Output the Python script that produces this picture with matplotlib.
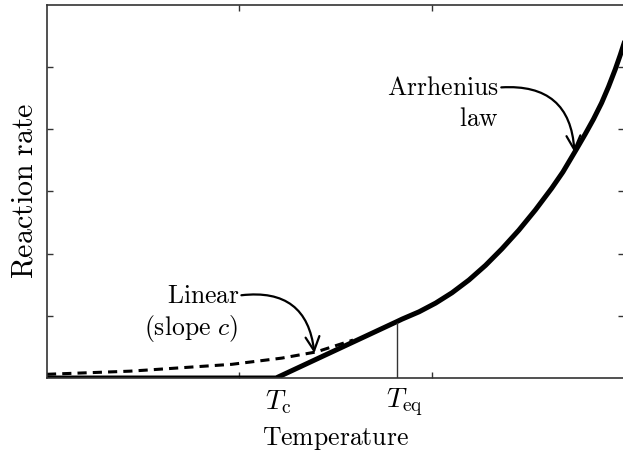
import matplotlib
matplotlib.use("Agg")
from matplotlib import pyplot as plt
from matplotlib.transforms import blended_transform_factory

plt.rcParams['mathtext.fontset'] = 'cm'
plt.rcParams['font.family'] = 'serif'

# curva solida: cero hasta Tc, lineal hasta Teq, luego Arrhenius
T_solid = [0.0, 1.19, 1.82, 1.845, 1.933, 2.019, 2.104, 2.192, 2.278, 2.363, 2.451,
           2.537, 2.622, 2.68, 2.751, 2.796, 2.839, 2.881, 2.917, 2.952, 2.978, 3.0]
rate_solid = [0.0, 0.0, 0.91, 0.947, 1.064, 1.204, 1.37, 1.575, 1.81, 2.075, 2.375,
              2.70, 3.05, 3.31, 3.68, 3.92, 4.16, 4.42, 4.68, 4.96, 5.19, 5.40]

# curva punteada (extension de Arrhenius a baja temperatura)
T_dash = [0.0, 0.43, 0.53, 0.96, 1.22, 1.40, 1.59]
rate_dash = [0.06, 0.11, 0.13, 0.22, 0.32, 0.42, 0.61]

Tc = 1.19
Teq = 1.82
rate_eq = 0.88

x_ticks = [1, 2]
y_ticks = [1, 2, 3, 4, 5]

fig = plt.figure(figsize=(6.23, 4.61), dpi=100)
ax = fig.add_axes([0.0754, 0.180, 0.927, 0.810])

ax.plot(T_dash, rate_dash, color='black', lw=2.2, dashes=(3, 2), solid_capstyle='butt')
ax.plot(T_solid, rate_solid, color='black', lw=3.6, solid_joinstyle='round')
ax.plot([Teq, Teq], [0, rate_eq], color='#333333', lw=1)

ax.set_xlim(0, 3)
ax.set_ylim(0, 6)
ax.set_xticks(x_ticks)
ax.set_yticks(y_ticks)
ax.tick_params(direction='in', length=4, width=1, top=True, right=True,
               labelbottom=False, labelleft=False, color='#333333')
for s in ax.spines.values():
    s.set_linewidth(1.2)
    s.set_color('#333333')

fs = 18.5
ax.set_ylabel(r'$\mathrm{Reaction\ rate}$', fontsize=fs + 3, labelpad=6)
ax.set_xlabel(r'$\mathrm{Temperature}$', fontsize=fs, labelpad=34)

trans = blended_transform_factory(ax.transData, ax.transAxes)
ax.text(Tc + 0.01, -0.064, r'$T_{\mathrm{c}}$', transform=trans, ha='center', va='center', fontsize=fs + 1.5)
ax.text(Teq + 0.04, -0.064, r'$T_{\mathrm{eq}}$', transform=trans, ha='center', va='center', fontsize=fs + 1.5)

ax.text(2.347, 4.67, r'$\mathrm{Arrhenius}$', ha='right', va='center', fontsize=fs)
ax.text(2.347, 4.17, r'$\mathrm{law}$', ha='right', va='center', fontsize=fs)
ax.text(1.0, 1.33, r'$\mathrm{Linear}$', ha='right', va='center', fontsize=fs)
ax.text(0.99, 0.80, r'$\mathrm{(slope\ }c\mathrm{)}$', ha='right', va='center', fontsize=fs)

arrow = dict(arrowstyle='->', connectionstyle='arc3,rad=-0.5', lw=1.6,
             color='black', mutation_scale=25, shrinkA=0, shrinkB=0)
ax.annotate('', xy=(2.74, 3.63), xytext=(2.36, 4.67), arrowprops=arrow)
ax.annotate('', xy=(1.389, 0.40), xytext=(1.01, 1.33), arrowprops=arrow)

plt.savefig("out.png", dpi=100)
